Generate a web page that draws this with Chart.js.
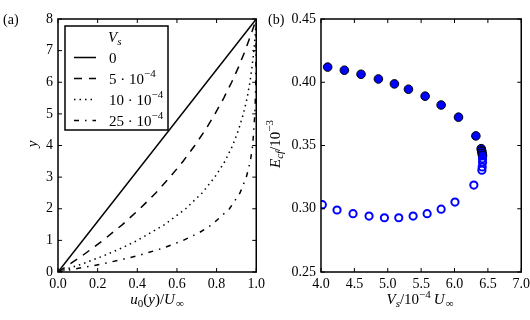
<!DOCTYPE html>
<html><head><meta charset="utf-8">
<script src="https://cdn.jsdelivr.net/npm/chart.js@4.4.0/dist/chart.umd.min.js"></script>
<style>
html,body{margin:0;padding:0;background:#fff;width:530px;height:320px;overflow:hidden}
canvas{position:absolute;top:0}
</style></head>
<body>
<canvas id="ca" width="269" height="320" style="left:0;width:269px;height:320px"></canvas>
<canvas id="cb" width="269" height="320" style="left:265px;width:269px;height:320px"></canvas>
<script>
// ---------- data: panel (a) velocity profiles ----------
const seriesLabels = ['0', '5 · 10⁻⁴', '10 · 10⁻⁴', '25 · 10⁻⁴'];
const ySolid = [0, 8];
const uSolid = [0, 1];
const yDash = [0,0.5,1,1.5,2,2.5,3,3.5,4,4.5,5,5.5,6,6.5,7,7.5,8];
const uDash = [0,0.119,0.227,0.325,0.413,0.493,0.565,0.631,0.690,0.744,0.792,0.836,0.876,0.912,0.944,0.973,1];
const yDot = [0,0.25,0.5,0.75,1,1.5,2,2.5,3,3.5,4,4.5,5,5.5,6,6.5,7,7.5,8];
const uDot = [0,0.120,0.225,0.319,0.401,0.538,0.644,0.727,0.791,0.842,0.881,0.911,0.935,0.954,0.968,0.979,0.988,0.995,1];
const yDashDot = [0,0.25,0.5,0.75,1,1.25,1.5,2,2.5,3,3.5,4,5,6,7,8];
const uDashDot = [0,0.221,0.394,0.528,0.632,0.714,0.777,0.865,0.918,0.950,0.970,0.982,0.993,0.998,0.999,1];
const xTicksA = [0, 0.2, 0.4, 0.6, 0.8, 1.0];
const yTicksA = [0, 1, 2, 3, 4, 5, 6, 7, 8];

// ---------- data: panel (b) E_cf vs V_s ----------
const vsUpper = [4.10,4.35,4.60,4.86,5.10,5.31,5.56,5.80,6.06,6.32,6.40,6.405,6.41,6.415,6.42];
const ecfUpper = [0.412,0.4095,0.4063,0.4026,0.3987,0.3945,0.389,0.382,0.3724,0.3576,0.3475,0.3462,0.345,0.3435,0.342];
const vsLower = [4.02,4.24,4.48,4.72,4.95,5.165,5.38,5.59,5.80,6.007,6.29,6.41,6.415,6.42,6.42];
const ecfLower = [0.3032,0.299,0.2961,0.2942,0.2929,0.2929,0.2942,0.2961,0.2997,0.3053,0.3187,0.3305,0.333,0.3365,0.3395];
const xTicksB = [4.0, 4.5, 5.0, 5.5, 6.0, 6.5, 7.0];
const yTicksB = [0.25, 0.30, 0.35, 0.40, 0.45];

const FAM = '"Liberation Serif", "Times New Roman", serif';
const pts = (xs, ys) => xs.map((x, i) => ({x: x, y: ys[i]}));

function drawRich(ctx, segs, x, y, o) {
  o = o || {};
  const size = o.size || 15, align = o.align || 'center', rot = o.rot || 0;
  const fontOf = s => (s.i ? 'italic ' : '') + ((s.sub || s.sup) ? Math.round(size * 0.72) : size) + 'px ' + FAM;
  let w = 0;
  segs.forEach(s => { ctx.font = fontOf(s); s.w = ctx.measureText(s.t).width + (s.after || 0); w += s.w; });
  ctx.save();
  ctx.translate(x, y); ctx.rotate(rot);
  let cx = align === 'center' ? -w / 2 : align === 'right' ? -w : 0;
  ctx.textBaseline = 'alphabetic'; ctx.textAlign = 'left'; ctx.fillStyle = '#000';
  segs.forEach(s => {
    ctx.font = fontOf(s);
    const dy = s.sub ? size * 0.22 : s.sup ? -size * 0.42 : 0;
    ctx.fillText(s.t, cx, dy);
    cx += s.w;
  });
  ctx.restore();
}

function labelSegs(str) {
  const m = str.match(/^(.*?)([⁻⁰¹²³⁴⁵⁶⁷⁸⁹]+)$/);
  if (!m) return [{t: str}];
  const map = {'⁻':'−','⁰':'0','¹':'1','²':'2','³':'3','⁴':'4','⁵':'5','⁶':'6','⁷':'7','⁸':'8','⁹':'9'};
  return [{t: m[1]}, {t: m[2].split('').map(c => map[c]).join(''), sup: true}];
}

function line(ctx, x1, y1, x2, y2) { ctx.beginPath(); ctx.moveTo(x1, y1); ctx.lineTo(x2, y2); ctx.stroke(); }

const framePlugin = {
  id: 'frame',
  afterDatasetsDraw(chart) {
    const ctx = chart.ctx, a = chart.chartArea, L = 4;
    ctx.save();
    ctx.strokeStyle = '#000';
    ctx.lineWidth = 1;
    const sx = chart.scales.x, sy = chart.scales.y;
    sx.ticks.forEach(t => {
      const p = sx.getPixelForValue(t.value);
      line(ctx, p, a.bottom, p, a.bottom - L);
      line(ctx, p, a.top, p, a.top + L);
    });
    sy.ticks.forEach(t => {
      const p = sy.getPixelForValue(t.value);
      line(ctx, a.left, p, a.left + L, p);
      line(ctx, a.right, p, a.right - L, p);
    });
    ctx.lineWidth = 1.5;
    ctx.strokeRect(a.left, a.top, a.right - a.left, a.bottom - a.top);
    ctx.restore();
  }
};

const textPluginA = {
  id: 'textA',
  afterDraw(chart) {
    const ctx = chart.ctx;
    drawRich(ctx, [{t: '(a)'}], 3, 24, {align: 'left', size: 14});
    drawRich(ctx, [{t: 'u', i: true}, {t: '0', sub: true}, {t: '('}, {t: 'y', i: true}, {t: ')/'}, {t: 'U', i: true, after: 1}, {t: '∞', sub: true}], 157, 304);
    drawRich(ctx, [{t: 'y', i: true}], 37, 144, {rot: -Math.PI / 2});
    // legend
    const bx = 65, by = 26, bw = 103, bh = 104;
    ctx.save();
    ctx.fillStyle = '#fff';
    ctx.fillRect(bx, by, bw, bh);
    ctx.strokeStyle = '#000'; ctx.lineWidth = 1.5;
    ctx.strokeRect(bx, by, bw, bh);
    ctx.restore();
    drawRich(ctx, [{t: 'V', i: true}, {t: 's', i: true, sub: true}], 108, 42, {align: 'left'});
    const rows = [57.5, 78.5, 99.5, 120.5];
    chart.data.datasets.forEach((ds, i) => {
      const yy = rows[i];
      ctx.save();
      ctx.strokeStyle = '#000'; ctx.lineWidth = ds.borderWidth; ctx.lineCap = 'butt';
      ctx.setLineDash(ds.borderDash || []);
      line(ctx, 74, yy, 96, yy);
      ctx.restore();
      drawRich(ctx, labelSegs(ds.label), 109, yy + 5, {align: 'left'});
    });
  }
};

const textPluginB = {
  id: 'textB',
  afterDraw(chart) {
    const ctx = chart.ctx;
    drawRich(ctx, [{t: '(b)'}], 3, 24, {align: 'left', size: 14});
    drawRich(ctx, [{t: 'V', i: true}, {t: 's', i: true, sub: true}, {t: '/10'}, {t: '−4', sup: true, after: 3}, {t: 'U', i: true, after: 1}, {t: '∞', sub: true}], 155, 304);
    drawRich(ctx, [{t: 'E', i: true}, {t: 'cf', i: true, sub: true}, {t: '/10'}, {t: '−3', sup: true}], 14.5, 144, {rot: -Math.PI / 2});
  }
};

const tickFont = {family: FAM, size: 14};

function lineDs(label, xs, ys, dash) {
  return {
    label: label, data: pts(xs, ys), showLine: true, pointRadius: 0,
    borderColor: '#000', borderWidth: 1.5, borderDash: dash, tension: 0,
    borderCapStyle: 'butt', fill: false
  };
}

const gridOff = {display: false, drawTicks: false};

new Chart(document.getElementById('ca'), {
  type: 'scatter',
  data: {
    datasets: [
      lineDs(seriesLabels[0], uSolid, ySolid, []),
      lineDs(seriesLabels[1], uDash, yDash, [8, 7]),
      lineDs(seriesLabels[2], uDot, yDot, [1.5, 4]),
      lineDs(seriesLabels[3], uDashDot, yDashDot, [5, 6, 1.5, 6])
    ]
  },
  options: {
    responsive: false, animation: false, devicePixelRatio: 1,
    layout: {padding: {top: 19, right: 0, left: 0, bottom: 0}},
    plugins: {legend: {display: false}, tooltip: {enabled: false}},
    scales: {
      x: {
        type: 'linear', min: 0, max: 1,
        afterBuildTicks: s => { s.ticks = xTicksA.map(v => ({value: v})); },
        afterFit: s => { s.height = 48; },
        grid: gridOff, border: {display: false},
        ticks: {font: tickFont, color: '#000', padding: 4, maxRotation: 0, callback: v => v.toFixed(1)}
      },
      y: {
        type: 'linear', min: 0, max: 8,
        afterBuildTicks: s => { s.ticks = yTicksA.map(v => ({value: v})); },
        afterFit: s => { s.width = 58; },
        grid: gridOff, border: {display: false},
        ticks: {font: tickFont, color: '#000', padding: 5, callback: v => String(v)}
      }
    }
  },
  plugins: [framePlugin, textPluginA]
});

new Chart(document.getElementById('cb'), {
  type: 'scatter',
  data: {
    datasets: [
      {label: 'lower branch', data: pts(vsLower, ecfLower), order: 0,
       pointRadius: 3.6, pointBorderWidth: 2, pointBorderColor: '#0000ff', pointBackgroundColor: 'rgba(0,0,0,0)',
       borderColor: '#0000ff', backgroundColor: 'rgba(0,0,0,0)'},
      {label: 'upper branch', data: pts(vsUpper, ecfUpper), order: 1,
       pointRadius: 4.3, pointBorderWidth: 1, pointBorderColor: '#000', pointBackgroundColor: '#0000ff',
       borderColor: '#000', backgroundColor: '#0000ff'}
    ]
  },
  options: {
    responsive: false, animation: false, devicePixelRatio: 1,
    layout: {padding: {top: 19, right: 2, left: 0, bottom: 0}},
    plugins: {legend: {display: false}, tooltip: {enabled: false}},
    scales: {
      x: {
        type: 'linear', min: 4, max: 7,
        afterBuildTicks: s => { s.ticks = xTicksB.map(v => ({value: v})); },
        afterFit: s => { s.height = 48; },
        grid: gridOff, border: {display: false},
        ticks: {font: tickFont, color: '#000', padding: 4, maxRotation: 0, callback: v => v.toFixed(1)}
      },
      y: {
        type: 'linear', min: 0.25, max: 0.45,
        afterBuildTicks: s => { s.ticks = yTicksB.map(v => ({value: v})); },
        afterFit: s => { s.width = 56; },
        grid: gridOff, border: {display: false},
        ticks: {font: tickFont, color: '#000', padding: 5, callback: v => v.toFixed(2)}
      }
    }
  },
  plugins: [framePlugin, textPluginB]
});
</script>
</body></html>
